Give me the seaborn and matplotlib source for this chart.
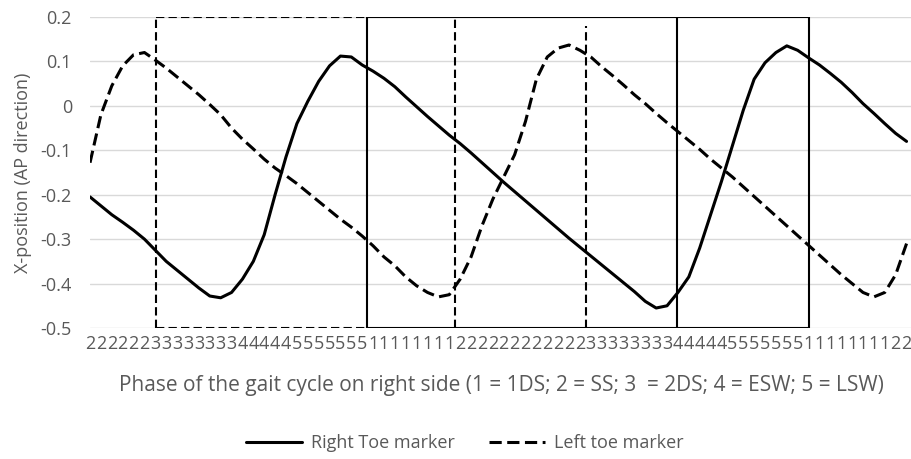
import numpy as np
import pandas as pd
import matplotlib.pyplot as plt
import seaborn as sns

# Phase of the gait cycle on the right side, one digit per sample
phase_labels = list("222222" "33333333" "44444" "5555555" "11111111"
                    "222222222222" "33333333" "44444" "5555555" "11111111" "22")

# X-position of the toe markers (AP direction)
right_toe = [-0.205, -0.225, -0.245, -0.262, -0.28, -0.30, -0.325, -0.35, -0.37, -0.39,
             -0.41, -0.428, -0.432, -0.42, -0.39, -0.35, -0.29, -0.20, -0.115, -0.04,
             0.01, 0.055, 0.09, 0.112, 0.11, 0.092, 0.078, 0.062, 0.043, 0.02,
             -0.002, -0.024, -0.045, -0.066, -0.085, -0.106, -0.128, -0.15, -0.172, -0.193,
             -0.214, -0.235, -0.256, -0.277, -0.298, -0.318, -0.338, -0.358, -0.378, -0.398,
             -0.418, -0.44, -0.455, -0.45, -0.42, -0.385, -0.32, -0.245, -0.17, -0.09,
             -0.01, 0.06, 0.097, 0.12, 0.135, 0.125, 0.108, 0.092, 0.073, 0.053,
             0.03, 0.005, -0.017, -0.04, -0.062, -0.08]

left_toe = [-0.128, -0.02, 0.045, 0.09, 0.115, 0.12, 0.103, 0.085, 0.065, 0.045,
            0.025, 0.003, -0.02, -0.05, -0.075, -0.097, -0.12, -0.14, -0.157, -0.175,
            -0.195, -0.215, -0.235, -0.255, -0.273, -0.293, -0.315, -0.34, -0.36, -0.385,
            -0.405, -0.42, -0.43, -0.425, -0.39, -0.34, -0.27, -0.21, -0.16, -0.11,
            -0.035, 0.06, 0.11, 0.13, 0.137, 0.125, 0.11, 0.088, 0.068, 0.047,
            0.025, 0.005, -0.017, -0.038, -0.058, -0.078, -0.098, -0.12, -0.14, -0.16,
            -0.182, -0.204, -0.226, -0.248, -0.27, -0.292, -0.314, -0.336, -0.358, -0.38,
            -0.40, -0.42, -0.43, -0.42, -0.38, -0.31]

# gait events (position along the sample axis)
right_events = [25.4, 53.9, 66.0]   # solid box
left_events = [6.1, 33.5, 45.6]     # dashed box

sample = np.arange(len(phase_labels))
df = pd.DataFrame({"sample": sample, "right": right_toe, "left": left_toe})

sns.set_style("white")
plt.rcParams['font.family'] = ['Open Sans', 'DejaVu Sans']
grey = '#595959'

fig = plt.figure(figsize=(9.12, 4.59), dpi=100)
ax = fig.add_axes([0.0987, 0.2854, 0.9013, 0.6776])

ax.grid(axis='y', color='#d9d9d9', linewidth=1)
ax.set_axisbelow(True)

sns.lineplot(data=df, x="sample", y="right", ax=ax, color='black', linewidth=2.2,
             label='Right Toe marker')
sns.lineplot(data=df, x="sample", y="left", ax=ax, color='black', linewidth=2.2,
             linestyle=(0, (4, 1.8)), label='Left toe marker')

# boxes marking the gait phases
ymax, ymin = 0.2, -0.5
box_dash = (0, (4, 2))
ax.hlines([ymax, ymin], left_events[0], right_events[0], colors='black',
          linewidth=1.5, linestyles=[box_dash])
ax.vlines(left_events[0], ymin, ymax, colors='black', linewidth=1.5, linestyles=[box_dash])
ax.vlines(left_events[1], ymin, 0.197, colors='black', linewidth=1.5, linestyles=[box_dash])
ax.vlines(left_events[2], ymin, 0.18, colors='black', linewidth=1.5, linestyles=[box_dash])
ax.hlines([ymax, ymin], right_events[0], right_events[2], colors='black', linewidth=1.5)
ax.vlines(right_events, ymin, ymax, colors='black', linewidth=1.5)

ax.set_xlim(0, len(phase_labels) - 0.5)
ax.set_ylim(ymin, ymax)
ax.set_xticks(sample)
ax.set_xticklabels(phase_labels)
yticks = [0.2, 0.1, 0, -0.1, -0.2, -0.3, -0.4, -0.5]
ax.set_yticks(yticks)
ax.set_yticklabels(["0.2", "0.1", "0", "-0.1", "-0.2", "-0.3", "-0.4", "-0.5"])
ax.tick_params(axis='both', length=0, labelsize=13, labelcolor=grey)
ax.tick_params(axis='y', pad=13)
ax.tick_params(axis='x', pad=5)
for s in ax.spines.values():
    s.set_visible(False)

ax.set_xlabel("Phase of the gait cycle on right side (1 = 1DS; 2 = SS; 3  = 2DS; 4 = ESW; 5 = LSW)",
              fontsize=15, color=grey, labelpad=16)
ax.set_ylabel("X-position (AP direction)", fontsize=13, color=grey, labelpad=6)

ax.get_legend().remove()
handles, labels = ax.get_legend_handles_labels()
fig.legend(handles, labels, loc='center', bbox_to_anchor=(0.51, 0.035), ncol=2,
           frameon=False, fontsize=13, handlelength=3.1, handletextpad=0.5,
           columnspacing=1.9, labelcolor=grey)

fig.savefig("out.png", dpi=100)
